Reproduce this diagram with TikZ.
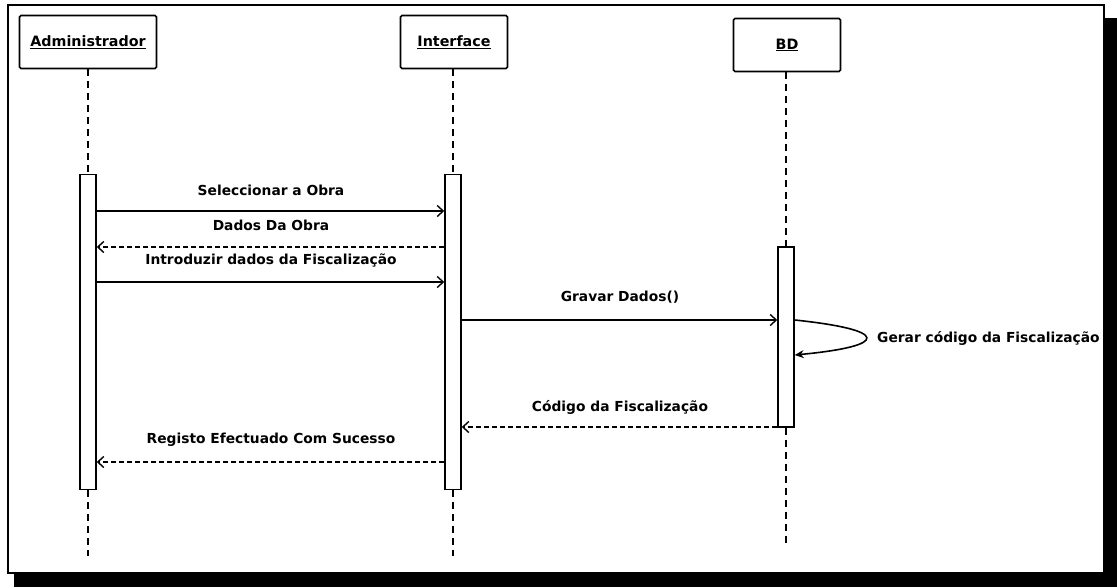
\documentclass[tikz,border=0pt]{standalone}
\usepackage{fontspec}
\setmainfont{DejaVu Sans}
\usetikzlibrary{arrows.meta}
\begin{document}
\begin{tikzpicture}[x=1pt,y=-1pt,
  every node/.style={font=\bfseries\fontsize{13.8}{16}\selectfont, inner sep=0pt},
  actor/.style={draw, line width=1.7pt, rounded corners=1.5pt, minimum width=137pt, minimum height=53pt,
    font=\bfseries\fontsize{14.3}{16}\selectfont},
  actbar/.style={draw, line width=1.5pt, fill=white, minimum width=16pt},
  lifeline/.style={line width=1.4pt, dash pattern=on 7pt off 5pt},
  msg/.style={line width=1.4pt, -{Straight Barb[length=6pt,width=11pt,line width=1.4pt]}},
  reply/.style={msg, dash pattern=on 5pt off 3pt},
  selfcall/.style={line width=1.6pt, -{Stealth[length=9pt,width=8pt]}},
  lbl/.style={anchor=center}
]
\useasboundingbox (0,0) rectangle (1117,587);
% frame with drop shadow
\fill[black] (14,18) rectangle (1117,587);
\draw[line width=2pt, fill=white] (8,5) rectangle (1104,573);

% participants
\node[actor] (adm) at (88,42) {\underline{Administrador}};
\node[actor, minimum width=107pt] (itf) at (454,42) {\underline{Interface}};
\node[actor, minimum width=107pt] (bd) at (787,45) {\underline{BD}};

% activation bars
\node[actbar, minimum height=315pt] (actA) at (88,332) {};
\node[actbar, minimum height=315pt] (actI) at (453,332) {};
\node[actbar, minimum height=180pt] (actB) at (786,337) {};

% lifeline ends
\coordinate (endA) at (88,556);
\coordinate (endI) at (453,556);
\coordinate (endB) at (786,545);

% lifelines
\draw[lifeline] (adm.south -| actA.north) -- (actA.north);
\draw[lifeline] (actA.south) -- (endA);
\draw[lifeline] (itf.south -| actI.north) -- (actI.north);
\draw[lifeline] (actI.south) -- (endI);
\draw[lifeline] (bd.south -| actB.north) -- (actB.north);
\draw[lifeline] (actB.south) -- (endB);

% messages
\draw[msg] (actA.east |- 0,211) -- (actI.west |- 0,211);
\node[lbl] (m1) at (271,190) {Seleccionar a Obra};

\draw[reply] (actI.west |- 0,247) -- (actA.east |- 0,247);
\node[lbl] (m2) at (271,225) {Dados Da Obra};

\draw[msg] (actA.east |- 0,282) -- (actI.west |- 0,282);
\node[lbl] (m3) at (271,260) {Introduzir dados da Fiscalização};

\draw[msg] (actI.east |- 0,320) -- (actB.west |- 0,320);
\node[lbl] (m4) at (620,297) {Gravar Dados()};

% self call
\draw[selfcall] (actB.east |- 0,320) .. controls (890,330) and (890,346) .. (actB.east |- 0,355);
\node[lbl, anchor=west] (m5) at (877,338) {Gerar código da Fiscalização};

\draw[reply] (actB.west |- 0,427) -- (actI.east |- 0,427);
\node[lbl] (m6) at (620,407) {Código da Fiscalização};

\draw[reply] (actI.west |- 0,462) -- (actA.east |- 0,462);
\node[lbl] (m7) at (271,440) {Registo Efectuado Com Sucesso};
\end{tikzpicture}
\end{document}
